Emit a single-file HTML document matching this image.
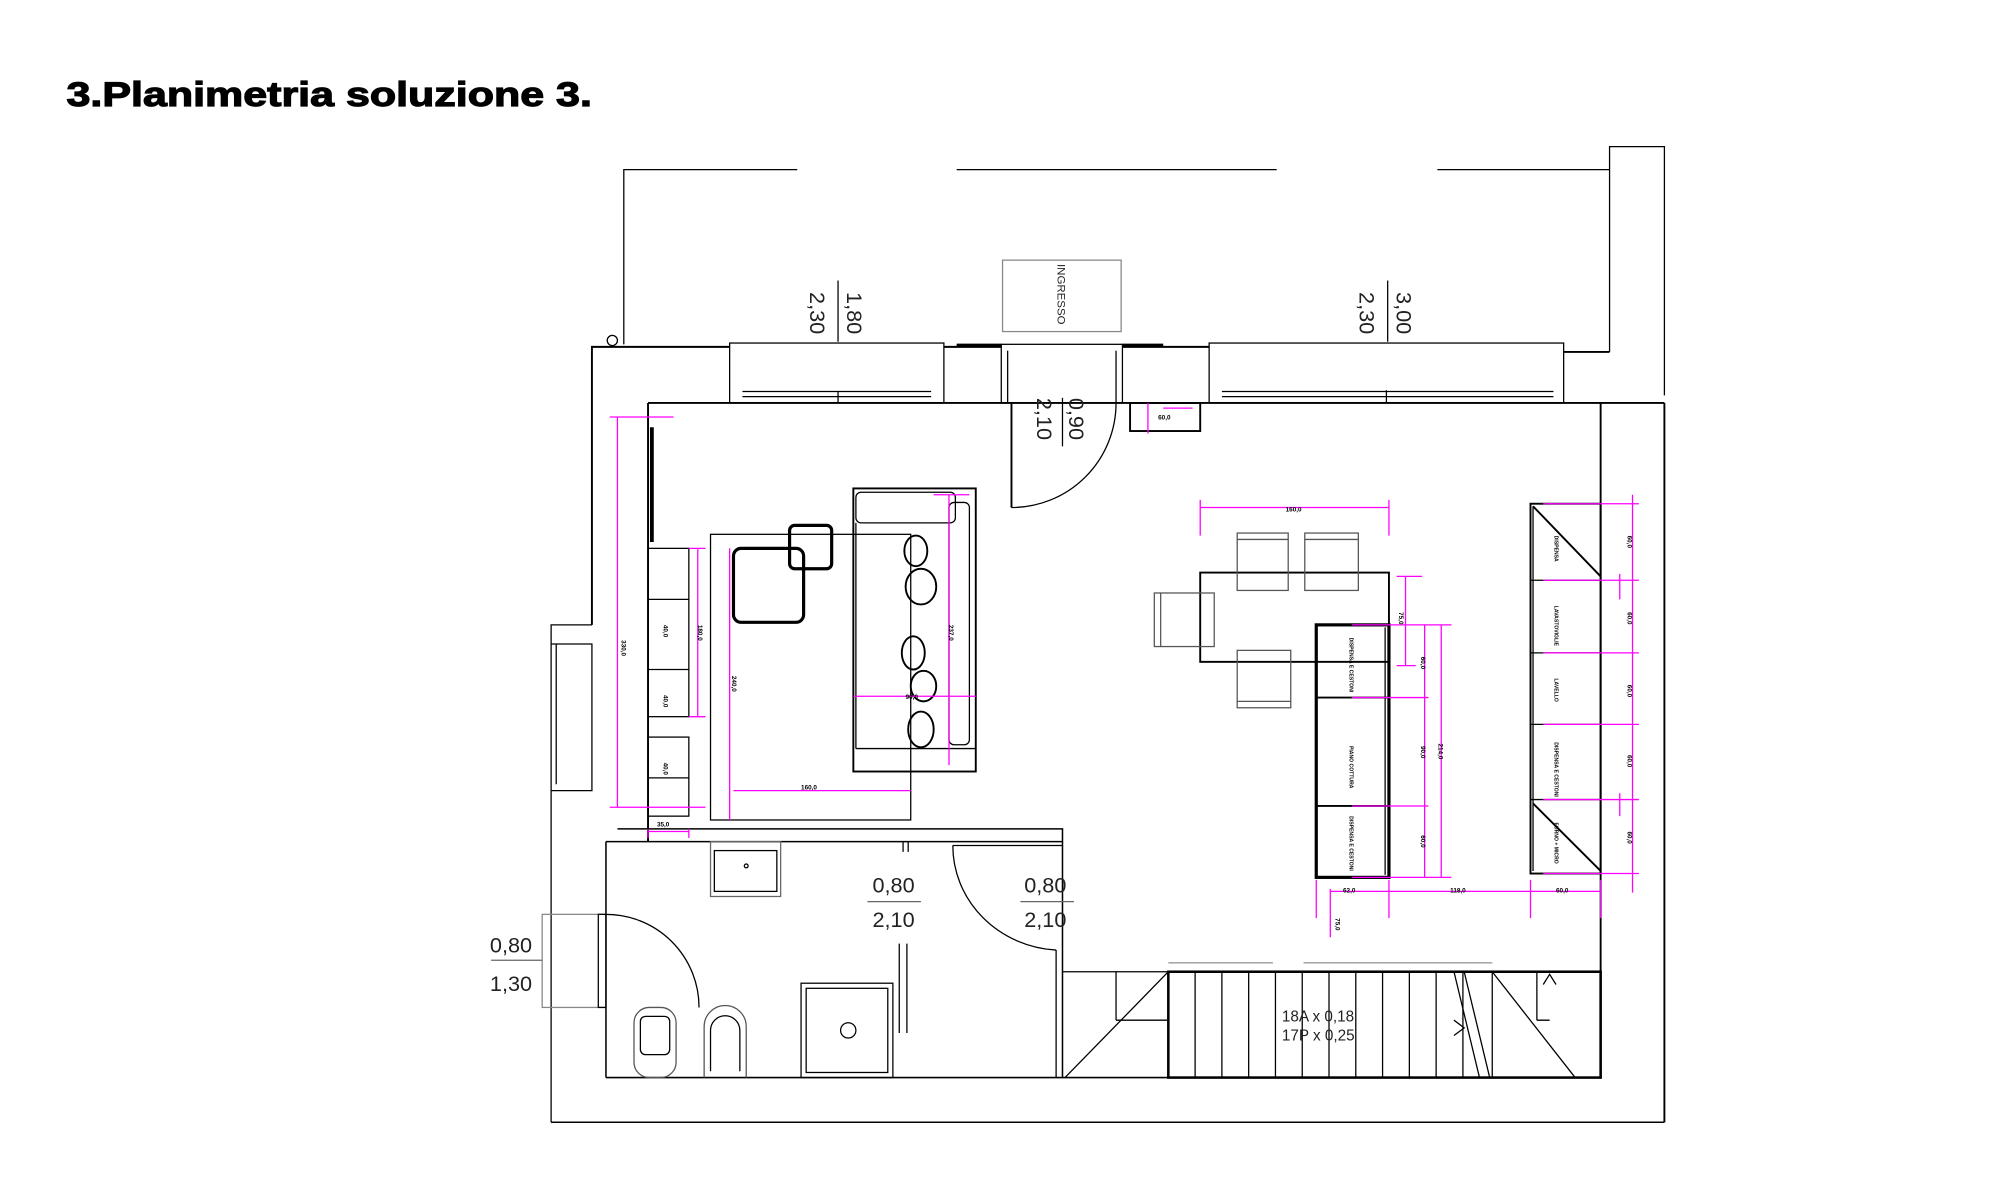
<!DOCTYPE html>
<html><head><meta charset="utf-8"><style>
html,body{margin:0;padding:0;background:#fff}
svg{display:block}
text{font-family:"Liberation Sans",sans-serif}
</style></head><body>
<svg width="2000" height="1200" viewBox="0 0 1568 941" xmlns="http://www.w3.org/2000/svg">
<text x="52" y="83" font-size="27" font-weight="bold" fill="#000" stroke="#000" stroke-width="0.9" textLength="412" lengthAdjust="spacingAndGlyphs">3.Planimetria soluzione 3.</text>

<g stroke="#000" fill="none" stroke-width="1">
<path d="M489 270V133H625M750 133H1001M1127 133H1262V115H1305V310M1262 115V276"/>
<path d="M464 490V272H572M740 272H785M880 272H948M1226 276H1262" stroke-width="1.5"/>
<rect x="572" y="269" width="168" height="47"/>
<line x1="582" y1="307" x2="730" y2="307"/><line x1="582" y1="311" x2="730" y2="311"/><line x1="657" y1="307" x2="657" y2="316"/>
<rect x="948" y="269" width="278" height="47"/>
<line x1="958" y1="307" x2="1218" y2="307"/><line x1="958" y1="311" x2="1218" y2="311"/><line x1="1087" y1="306" x2="1087" y2="316"/>
<rect x="785" y="270" width="95" height="46"/>
<line x1="790" y1="275" x2="790" y2="316"/><line x1="875" y1="275" x2="875" y2="316"/>
<line x1="750" y1="271" x2="785" y2="271" stroke-width="3"/><line x1="880" y1="271" x2="912" y2="271" stroke-width="3"/>
<circle cx="480" cy="267" r="4"/>
<path d="M508 316H1305M508 316V660M1255 316V845M1305 316V880" stroke-width="1.5"/>
<path d="M432 880V490H464M432 505H464V620H432M436 505V615" />
<path d="M475 845H1255M432 880H1305" stroke-width="1.2"/>
<rect x="786" y="204" width="93" height="56" stroke="#888"/>
<path d="M793 316V398" stroke-width="1.5"/><path d="M793 398A82 82 0 0 0 875 316"/>
<line x1="657" y1="220" x2="657" y2="268"/><line x1="1088" y1="220" x2="1088" y2="268"/><line x1="833" y1="312" x2="833" y2="350"/>
<rect x="886" y="316" width="55" height="22" stroke-width="1.5"/>
<line x1="511" y1="335" x2="511" y2="425" stroke-width="3"/>
<rect x="508" y="430" width="32" height="132"/><line x1="508" y1="470" x2="540" y2="470"/><line x1="508" y1="525" x2="540" y2="525"/>
<rect x="508" y="578" width="32" height="62"/><line x1="508" y1="610" x2="540" y2="610"/>
<rect x="557" y="419" width="157" height="224"/>
<rect x="575" y="430" width="55" height="58" rx="6" stroke-width="2.5"/>
<rect x="619" y="412" width="33" height="34" rx="4" stroke-width="2.5"/>
<rect x="669" y="383" width="96" height="222" stroke-width="1.5"/>
<rect x="671" y="386" width="78" height="24" rx="4"/>
<rect x="744" y="394" width="16" height="190" rx="4"/>
<line x1="671" y1="587" x2="765" y2="587"/><line x1="671" y1="410" x2="671" y2="587"/>
<g stroke-width="1.5">
<ellipse cx="718" cy="432" rx="9" ry="12"/><ellipse cx="722" cy="460" rx="12" ry="14"/>
<ellipse cx="716" cy="512" rx="9" ry="13"/><ellipse cx="724" cy="538" rx="10" ry="12"/><ellipse cx="722" cy="572" rx="10" ry="14"/>
</g>
<rect x="941" y="449" width="148" height="70" stroke-width="1.5"/>
<g stroke="#555"><rect x="970" y="418" width="40" height="45"/><line x1="970" y1="423" x2="1010" y2="423"/>
<rect x="1023" y="418" width="42" height="45"/><line x1="1023" y1="423" x2="1065" y2="423"/>
<rect x="905" y="465" width="47" height="42"/><line x1="910" y1="465" x2="910" y2="507"/>
<rect x="970" y="510" width="42" height="45"/><line x1="970" y1="550" x2="1012" y2="550"/></g>
<rect x="1032" y="490" width="57" height="198" stroke-width="2.5"/>
<line x1="1032" y1="547" x2="1089" y2="547" stroke-width="1.5"/><line x1="1032" y1="632" x2="1089" y2="632" stroke-width="1.5"/>
<line x1="1086" y1="492" x2="1086" y2="686"/>
<rect x="1200" y="395" width="55" height="290" stroke-width="1.5"/>
<path d="M1200 455H1255M1200 512H1255M1200 568H1255M1200 627H1255M1202 397V683" />
<path d="M1202 397L1255 452M1202 630L1255 683" stroke-width="1.5"/>
<path d="M475 660H833M484 650H833V660M475 660V845M833 660V845" stroke-width="1.2"/>
<path d="M708 660V668M712 660V668M705 740V810M711 740V810"/>
<path d="M747 663H833M828 745V845"/><path d="M747 663A86 82 0 0 0 828 745"/>
<rect x="425" y="717" width="50" height="73" stroke="#888"/>
<rect x="469" y="717" width="6" height="73"/><path d="M475 717A73 73 0 0 1 548 790"/>
<line x1="385" y1="753" x2="425" y2="753" stroke="#666"/>
<line x1="680" y1="707" x2="722" y2="707" stroke="#666"/><line x1="800" y1="707" x2="842" y2="707" stroke="#666"/>
<rect x="557" y="660" width="55" height="43" stroke="#666"/><rect x="560" y="667" width="49" height="32"/><circle cx="585" cy="679" r="1.5"/>
<rect x="497" y="790" width="33" height="55" rx="12" stroke="#555"/><rect x="502" y="797" width="23" height="30" rx="4"/>
<path d="M552 845V805A16 16 0 0 1 585 805V845" stroke="#555"/><path d="M557 840V808A11 11 0 0 1 580 808V840"/>
<rect x="628" y="771" width="72" height="74"/><rect x="632" y="775" width="64" height="66"/><circle cx="665" cy="808" r="6"/>
<rect x="916" y="762" width="339" height="83" stroke-width="2"/>
<path d="M937 762V845M958 762V845M979 762V845M1000 762V845M1021 762V845M1042 762V845M1063 762V845M1084 762V845M1105 762V845M1126 762V845M1147 762V845M1170 762V845"/>
<path d="M833 762H916M835 845L916 762M875 762V800M875 800H916M1170 762L1235 845M1210 762L1240 762M1140 762L1160 845M1148 762L1168 845M1205 800V762M1205 800H1215"/>
<path d="M916 755H998M1022 755H1170" stroke="#999"/>
<path d="M1210 772L1215 764L1220 772M1140 800L1148 806L1140 812"/>
</g>

<g stroke="#f0f" fill="none" stroke-width="1">
<path d="M484 327V633M478 327H528M478 633H553"/>
<path d="M547 430V562M540 430H553M540 562H553"/>
<path d="M508 650V657M540 650V657M508 652H540"/>
<path d="M572 430V643M575 620H714"/>
<path d="M669 546H765M744 388V600M732 388H760"/>
<path d="M941 398H1089M941 392V420M1089 392V420"/>
<path d="M1102 452V522M1095 452H1115M1095 522H1110"/>
<path d="M1117 490V688M1130 490V688M1060 490H1138M1060 547H1120M1060 632H1120M1060 688H1138"/>
<path d="M1043 697V735M1043 699H1255M1032 690V720M1089 690V720M1200 690V720M1255 690V720"/>
<path d="M1280 388V700M1210 395H1285M1210 455H1285M1210 512H1285M1210 568H1285M1210 627H1285M1210 685H1285M1270 450V470M1270 622V640"/>
<path d="M900 316V340M912 320H935"/>
</g>

<g fill="#000" font-weight="bold" font-size="5">
<text x="506" y="477" transform="rotate(90 484 480)" >330,0</text>
<text x="520" y="490" transform="rotate(90 520 490)">40,0</text>
<text x="520" y="545" transform="rotate(90 520 545)">40,0</text>
<text x="520" y="598" transform="rotate(90 520 598)">40,0</text>
<text x="547" y="490" transform="rotate(90 547 490)">180,0</text>
<text x="574" y="530" transform="rotate(90 574 530)">240,0</text>
<text x="628" y="619">160,0</text>
<text x="515" y="648">35,0</text>
<text x="710" y="548">90,0</text>
<text x="744" y="490" transform="rotate(90 744 490)">237,0</text>
<text x="1008" y="401">160,0</text>
<text x="908" y="329">60,0</text>
<text x="1053" y="700">62,0</text>
<text x="1137" y="700">118,0</text>
<text x="1220" y="700">60,0</text>
<text x="1097" y="480" transform="rotate(90 1097 480)">75,0</text>
<text x="1128" y="583" transform="rotate(90 1128 583)">214,0</text>
<text x="1114" y="585" transform="rotate(90 1114 585)">90,0</text>
<text x="1114" y="655" transform="rotate(90 1114 655)">60,0</text>
<text x="1114" y="515" transform="rotate(90 1114 515)">60,0</text>
<text x="1047" y="720" transform="rotate(90 1047 720)">75,0</text>
<text x="1276" y="420" transform="rotate(90 1276 420)">60,0</text>
<text x="1276" y="480" transform="rotate(90 1276 480)">60,0</text>
<text x="1276" y="537" transform="rotate(90 1276 537)">60,0</text>
<text x="1276" y="592" transform="rotate(90 1276 592)">60,0</text>
<text x="1276" y="652" transform="rotate(90 1276 652)">60,0</text>
<text x="1219" y="420" transform="rotate(90 1219 420)" font-size="4">DISPENSA</text>
<text x="1219" y="475" transform="rotate(90 1219 475)" font-size="4">LAVASTOVIGLIE</text>
<text x="1219" y="532" transform="rotate(90 1219 532)" font-size="4">LAVELLO</text>
<text x="1219" y="582" transform="rotate(90 1219 582)" font-size="4">DISPENSA E CESTONI</text>
<text x="1219" y="645" transform="rotate(90 1219 645)" font-size="4">FORNO + MICRO</text>
<text x="1058" y="500" transform="rotate(90 1058 500)" font-size="4">DISPENSA E CESTONI</text>
<text x="1058" y="585" transform="rotate(90 1058 585)" font-size="4">PIANO COTTURA</text>
<text x="1058" y="640" transform="rotate(90 1058 640)" font-size="4">DISPENSA E CESTONI</text>
</g>

<g fill="#222" font-size="17">
<text transform="translate(635 229) rotate(90)">2,30</text>
<text transform="translate(664 229) rotate(90)">1,80</text>
<text transform="translate(1066 229) rotate(90)">2,30</text>
<text transform="translate(1095 229) rotate(90)">3,00</text>
<text transform="translate(813 312) rotate(90)">2,10</text>
<text transform="translate(838 312) rotate(90)">0,90</text>
<text x="684" y="700">0,80</text><text x="684" y="727">2,10</text>
<text x="803" y="700">0,80</text><text x="803" y="727">2,10</text>
<text x="384" y="747">0,80</text><text x="384" y="777">1,30</text>
</g>
<text transform="translate(829 207) rotate(90)" font-size="9" fill="#222">INGRESSO</text>
<text x="1005" y="801" font-size="12" fill="#222">18A x 0,18</text>
<text x="1005" y="816" font-size="12" fill="#222">17P x 0,25</text>
</svg>
</body></html>
